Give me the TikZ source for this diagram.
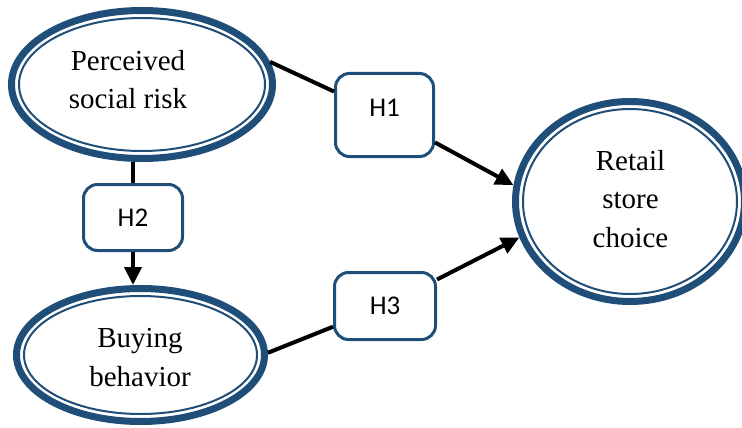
\documentclass[tikz,border=0pt]{standalone}
\usepackage{fontspec}
\setmainfont{Liberation Serif}
\newfontfamily\hfont{Carlito}
\usetikzlibrary{shapes.geometric,arrows.meta}
\definecolor{ringblue}{RGB}{31,78,121}
\begin{document}
\begin{tikzpicture}[x=1pt,y=-1pt,
  ring/.style={ellipse,draw=ringblue,line width=7pt,fill=white,inner sep=0pt},
  innerring/.style={draw=ringblue,line width=2pt},
  lbl/.style={align=center,font=\fontsize{29}{38.5}\selectfont,inner sep=0pt},
  hbox/.style={draw=ringblue,line width=3pt,rounded corners=14pt,fill=white,
    inner sep=0pt,font=\hfont\fontsize{27}{30}\selectfont},
  link/.style={line width=4pt,black},
  arr/.style={link,-{Triangle[length=18pt,width=17pt]}}]
\useasboundingbox (0,0) rectangle (742,428);

% ellipses
\node[ring,minimum width=261pt,minimum height=148pt] (ps) at (142,84.5) {};
\draw[innerring] (ps.center) ellipse [x radius=123, y radius=66.5];
\node[lbl] (pst) at (128,79.5) {Perceived\\social risk};

\node[ring,minimum width=248pt,minimum height=133pt] (bb) at (140.5,355) {};
\draw[innerring] (bb.center) ellipse [x radius=116.5, y radius=59];
\node[lbl] (bbt) at (140,357.5) {Buying\\behavior};

\node[ring,minimum width=229pt,minimum height=200pt] (rsc) at (630,201.5) {};
\draw[innerring] (rsc.center) ellipse [x radius=107, y radius=92.5];
\node[lbl] (rsct) at (630.5,199) {Retail\\store\\choice};

% hypothesis boxes
\node[hbox,minimum width=98pt,minimum height=83pt,text depth=14pt] (h1) at (384.5,115) {H1\hspace{14pt}};
\node[hbox,minimum width=99pt,minimum height=66pt] (h2) at (133,217.5) {H2};
\node[hbox,minimum width=101pt,minimum height=67pt] (h3) at (385,306) {H3};

% connectors
\draw[link] (ps.10) -- (h1);
\draw[arr] (h1) -- (rsc.172);
\draw[link] (h2 |- ps.south) -- (h2);
\draw[arr] (h2) -- (h2 |- bb.north);
\draw[link] (bb.1) -- (h3);
\draw[arr] (h3) -- (rsc.198);
\end{tikzpicture}
\end{document}
